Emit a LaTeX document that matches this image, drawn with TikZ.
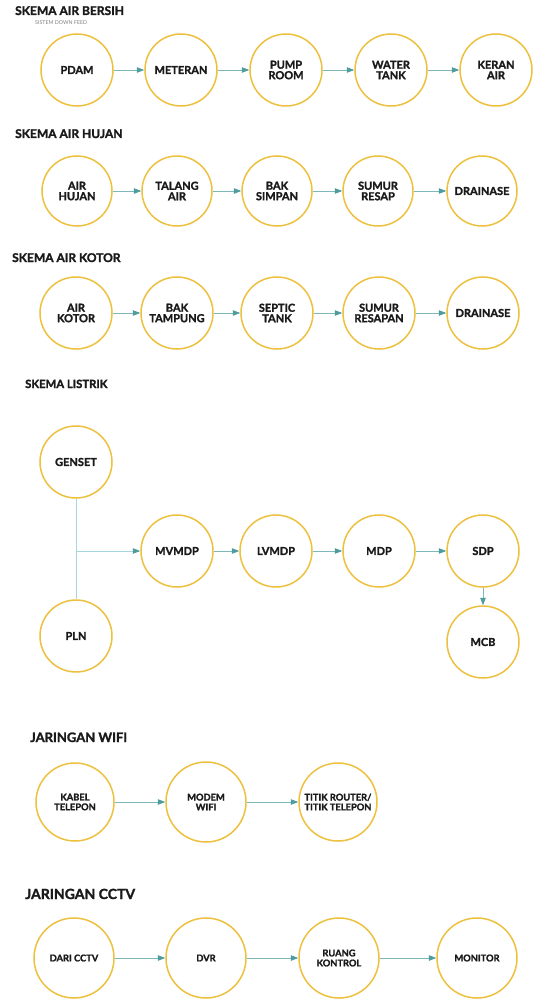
\documentclass[tikz,border=0pt]{standalone}
\usepackage{fontspec}
\setmainfont{Lato}[BoldFeatures={FakeBold=1.6}]
\usetikzlibrary{arrows.meta}
\definecolor{ycol}{HTML}{EDC13F}
\definecolor{tline}{HTML}{7FB8BA}
\definecolor{thead}{HTML}{4E9C9E}
\definecolor{txt}{HTML}{1A1A1A}
\definecolor{vline}{HTML}{A9D6DC}
\begin{document}
\begin{tikzpicture}[x=1pt,y=-1pt,
  circ/.style={circle,draw=ycol,line width=1.5pt,minimum size=72pt,inner sep=0pt,align=center,text=txt,
    font=\fontsize{11}{10.5}\selectfont\bfseries},
  circs/.style={circ,minimum size=78pt,font=\fontsize{9.3}{9.8}\selectfont\bfseries},
  circl/.style={circ,minimum size=80pt,font=\fontsize{9.3}{10}\selectfont\bfseries},
  arr/.style={draw=tline,line width=0.9pt,-{Triangle[length=7.5pt,width=5.5pt,color=thead]}},
  ttl/.style={anchor=base west,inner sep=0pt,text=txt,font=\fontsize{12}{12}\selectfont\bfseries},
  ttlb/.style={ttl,font=\fontsize{13}{13}\selectfont\bfseries}]
\useasboundingbox[fill=white] (0,0) rectangle (540,1000);

% Row 1
\node[ttl] (t1) at (15,15) {SKEMA AIR BERSIH};
\node[anchor=base west,inner sep=0pt,text=gray,font=\fontsize{5.3}{5}\selectfont] (t1s) at (35,24.5) {SISTEM DOWN FEED};
\node[circ] (a1) at (77,70) {PDAM};
\node[circ] (a2) at (181,70) {METERAN};
\node[circ] (a3) at (286,70) {PUMP\\ROOM};
\node[circ] (a4) at (391,70) {WATER\\TANK};
\node[circ] (a5) at (496,70) {KERAN\\AIR};
\draw[arr] (a1) -- (a2);
\draw[arr] (a2) -- (a3);
\draw[arr] (a3) -- (a4);
\draw[arr] (a4) -- (a5);

% Row 2
\node[ttl] (t2) at (15,138) {SKEMA AIR HUJAN};
\node[circ,minimum size=70pt] (b1) at (77,191) {AIR\\HUJAN};
\node[circ,minimum size=70pt] (b2) at (177,191) {TALANG\\AIR};
\node[circ,minimum size=70pt] (b3) at (277,191) {BAK\\SIMPAN};
\node[circ,minimum size=70pt] (b4) at (378,191) {SUMUR\\RESAP};
\node[circ,minimum size=70pt] (b5) at (482,191) {DRAINASE};
\draw[arr] (b1) -- (b2);
\draw[arr] (b2) -- (b3);
\draw[arr] (b3) -- (b4);
\draw[arr] (b4) -- (b5);

% Row 3
\node[ttl] (t3) at (12,262) {SKEMA AIR KOTOR};
\node[circ] (c1) at (76,313) {AIR\\KOTOR};
\node[circ] (c2) at (177,313) {BAK\\TAMPUNG};
\node[circ] (c3) at (277,313) {SEPTIC\\TANK};
\node[circ] (c4) at (379,313) {SUMUR\\RESAPAN};
\node[circ] (c5) at (483,313) {DRAINASE};
\draw[arr] (c1) -- (c2);
\draw[arr] (c2) -- (c3);
\draw[arr] (c3) -- (c4);
\draw[arr] (c4) -- (c5);

% Row 4
\node[ttl,font=\fontsize{11.3}{11}\selectfont\bfseries] (t4) at (25,388) {SKEMA LISTRIK};
\node[circ] (d1) at (76,462) {GENSET};
\node[circ] (d2) at (76,636) {PLN};
\node[circ] (d3) at (177,551) {MVMDP};
\node[circ] (d4) at (276,551) {LVMDP};
\node[circ] (d5) at (379,551) {MDP};
\node[circ] (d6) at (483,551) {SDP};
\node[circ] (d7) at (483,642) {MCB};
\coordinate (j) at (76,551);
\draw[vline,line width=0.9pt] (d1) -- (d2);
\draw[arr,draw=vline] (j) -- (d3);
\draw[arr] (d3) -- (d4);
\draw[arr] (d4) -- (d5);
\draw[arr] (d5) -- (d6);
\draw[arr] (d6) -- (d7);

% Row 5
\node[ttlb] (t5) at (30,742) {JARINGAN WIFI};
\node[circs] (e1) at (75,802) {KABEL\\TELEPON};
\node[circs,minimum size=80pt] (e2) at (206,802) {MODEM\\WIFI};
\node[circs] (e3) at (338,802) {TITIK ROUTER/\\TITIK TELEPON};
\draw[arr] (e1) -- (e2);
\draw[arr] (e2) -- (e3);

% Row 6
\node[ttlb,font=\fontsize{14}{14}\selectfont\bfseries] (t6) at (25,899) {JARINGAN CCTV};
\node[circl] (f1) at (74,958) {DARI CCTV};
\node[circl] (f2) at (206,958) {DVR};
\node[circl] (f3) at (339,958) {RUANG\\KONTROL};
\node[circl] (f4) at (477,958) {MONITOR};
\draw[arr] (f1) -- (f2);
\draw[arr] (f2) -- (f3);
\draw[arr] (f3) -- (f4);
\end{tikzpicture}
\end{document}
